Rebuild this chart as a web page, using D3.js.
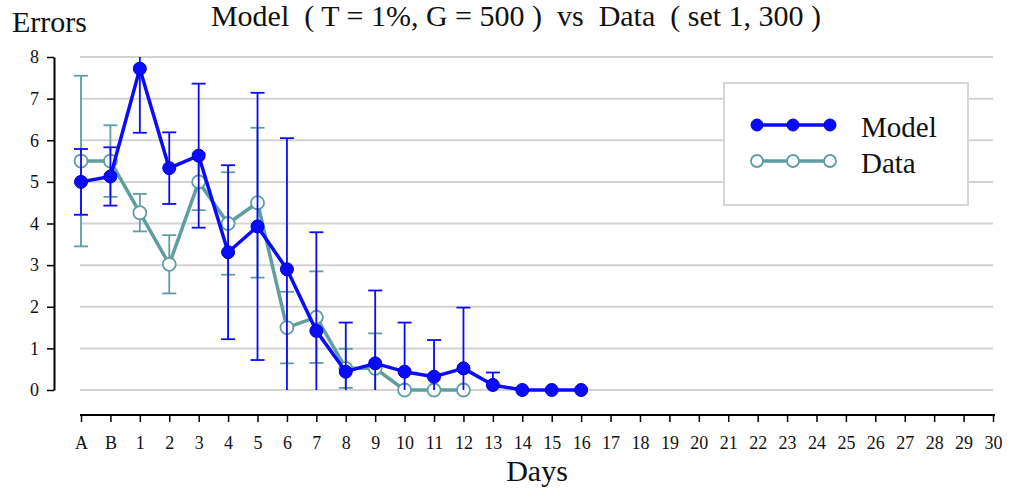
<!DOCTYPE html>
<html>
<head>
<meta charset="utf-8">
<script src="https://cdn.jsdelivr.net/npm/d3@7"></script>
<style>
  body { margin: 0; background: #fff; }
  svg { font-family: "Liberation Serif", "Times New Roman", serif; }
</style>
</head>
<body>
<svg id="chart" width="1012" height="493"></svg>
<script>
const days = ['A', 'B', '1', '2', '3', '4', '5', '6', '7', '8', '9', '10', '11', '12', '13', '14', '15', '16',
  '17', '18', '19', '20', '21', '22', '23', '24', '25', '26', '27', '28', '29', '30'];

const modelMean = [5.0, 5.13, 7.72, 5.33, 5.63, 3.31, 3.93, 2.9, 1.42, 0.44, 0.64, 0.44, 0.32, 0.52, 0.12, 0, 0, 0];
const modelErr  = [0.79, 0.7, 1.54, 0.86, 1.73, 2.09, 3.21, 3.15, 2.37, 1.18, 1.75, 1.18, 0.88, 1.46, 0.3, 0, 0, 0];

const dataMean = [5.5, 5.5, 4.26, 3.02, 5.0, 4.0, 4.5, 1.5, 1.75, 0.52, 0.52, 0, 0, 0];
const dataErr  = [2.05, 0.86, 0.45, 0.7, 0.68, 1.23, 1.8, 0.86, 1.1, 0.47, 0.84, 0, 0, 0];

const yTicks = [0, 1, 2, 3, 4, 5, 6, 7, 8];

const svg = d3.select('#chart');

let x = d3.scalePoint().domain(days).range([81, 993]);
let y = d3.scaleLinear().domain([0, 8]).range([390, 57]);

// grid
svg.append('g')
  .selectAll('line')
  .data(yTicks)
  .enter()
  .append('line')
  .attr('x1', 80)
  .attr('x2', 993)
  .attr('y1', (d) => y(d))
  .attr('y2', (d) => y(d))
  .attr('stroke', '#d3d3d3')
  .attr('stroke-width', 2);

// y axis
let yAxis = svg.append('g')
  .attr('transform', 'translate(54,0)')
  .call(d3.axisLeft(y).tickValues(yTicks).tickSize(7).tickPadding(8).tickSizeOuter(0));
yAxis.select('.domain').attr('stroke', '#000').attr('stroke-width', 2);
yAxis.selectAll('.tick line').attr('stroke', '#000').attr('stroke-width', 1.5);
yAxis.selectAll('text').attr('font-size', 18).attr('font-family', 'Liberation Serif').attr('fill', '#111');

// x axis
let xAxis = svg.append('g')
  .attr('transform', 'translate(0,415)')
  .call(d3.axisBottom(x).tickSize(7).tickPadding(14).tickSizeOuter(0));
xAxis.select('.domain').attr('stroke', '#000').attr('stroke-width', 2).attr('d', 'M80,0H995');
xAxis.selectAll('.tick line').attr('stroke', '#000').attr('stroke-width', 1.5);
xAxis.selectAll('text').attr('font-size', 18).attr('font-family', 'Liberation Serif').attr('fill', '#111');

// clip for error bars
svg.append('clipPath')
  .attr('id', 'plot-clip')
  .append('rect')
  .attr('x', 60).attr('y', y(8)).attr('width', 940).attr('height', y(0) - y(8));

function drawSeries(means, errs, color, filled, lw) {
  let pts = means.map((m, i) => ({ day: days[i], m: m, e: errs[i] }));
  let g = svg.append('g');
  let eb = g.append('g').attr('clip-path', 'url(#plot-clip)')
    .selectAll('g')
    .data(pts.filter((d) => d.e > 0))
    .enter()
    .append('g')
    .attr('stroke', color)
    .attr('stroke-width', 1.8);
  eb.append('line')
    .attr('x1', (d) => x(d.day)).attr('x2', (d) => x(d.day))
    .attr('y1', (d) => y(d.m - d.e)).attr('y2', (d) => y(d.m + d.e));
  eb.append('line')
    .attr('x1', (d) => x(d.day) - 7).attr('x2', (d) => x(d.day) + 7)
    .attr('y1', (d) => y(d.m + d.e)).attr('y2', (d) => y(d.m + d.e));
  eb.append('line')
    .attr('x1', (d) => x(d.day) - 7).attr('x2', (d) => x(d.day) + 7)
    .attr('y1', (d) => y(d.m - d.e)).attr('y2', (d) => y(d.m - d.e));

  g.append('path')
    .datum(pts)
    .attr('fill', 'none')
    .attr('stroke', color)
    .attr('stroke-width', lw)
    .attr('stroke-linejoin', 'round')
    .attr('d', d3.line().x((d) => x(d.day)).y((d) => y(d.m)));

  g.selectAll('circle')
    .data(pts)
    .enter()
    .append('circle')
    .attr('cx', (d) => x(d.day))
    .attr('cy', (d) => y(d.m))
    .attr('r', 6.5)
    .attr('fill', filled ? color : '#fff')
    .attr('stroke', filled ? '#0000c8' : color)
    .attr('stroke-width', filled ? 1 : 1.8);
}

drawSeries(dataMean, dataErr, '#5f9ea0', false, 3.5);
drawSeries(modelMean, modelErr, '#0a0aff', true, 3.5);

// legend
let legend = svg.append('g');
legend.append('rect')
  .attr('x', 724).attr('y', 83).attr('width', 244).attr('height', 122)
  .attr('fill', '#fff').attr('stroke', '#d8d8d8').attr('stroke-width', 2);

const legendItems = [
  { name: 'Model', color: '#0a0aff', filled: true, y: 125 },
  { name: 'Data', color: '#5f9ea0', filled: false, y: 161 }
];
let li = legend.selectAll('g.item')
  .data(legendItems)
  .enter()
  .append('g')
  .attr('class', 'item');
li.append('line')
  .attr('x1', 757).attr('x2', 830)
  .attr('y1', (d) => d.y).attr('y2', (d) => d.y)
  .attr('stroke', (d) => d.color).attr('stroke-width', 3.5);
[757, 793, 830].forEach((cx) => {
  li.append('circle')
    .attr('cx', cx).attr('cy', (d) => d.y).attr('r', 6)
    .attr('fill', (d) => d.filled ? d.color : '#fff')
    .attr('stroke', (d) => d.filled ? '#0000c8' : d.color)
    .attr('stroke-width', (d) => d.filled ? 1 : 1.8);
});
li.append('text')
  .attr('x', 861).attr('y', (d) => d.y + 12)
  .attr('font-size', 29)
  .attr('fill', '#111')
  .text((d) => d.name);

// titles
svg.append('text')
  .attr('x', 516).attr('y', 26)
  .attr('text-anchor', 'middle')
  .attr('font-size', 30)
  .attr('fill', '#111')
  .style('white-space', 'pre')
  .text('Model  ( T = 1%, G = 500 )  vs  Data  ( set 1, 300 )');

svg.append('text')
  .attr('x', 12).attr('y', 32)
  .attr('font-size', 30)
  .attr('fill', '#111')
  .text('Errors');

svg.append('text')
  .attr('x', 537).attr('y', 481)
  .attr('text-anchor', 'middle')
  .attr('font-size', 30)
  .attr('fill', '#111')
  .text('Days');
</script>
</body>
</html>
